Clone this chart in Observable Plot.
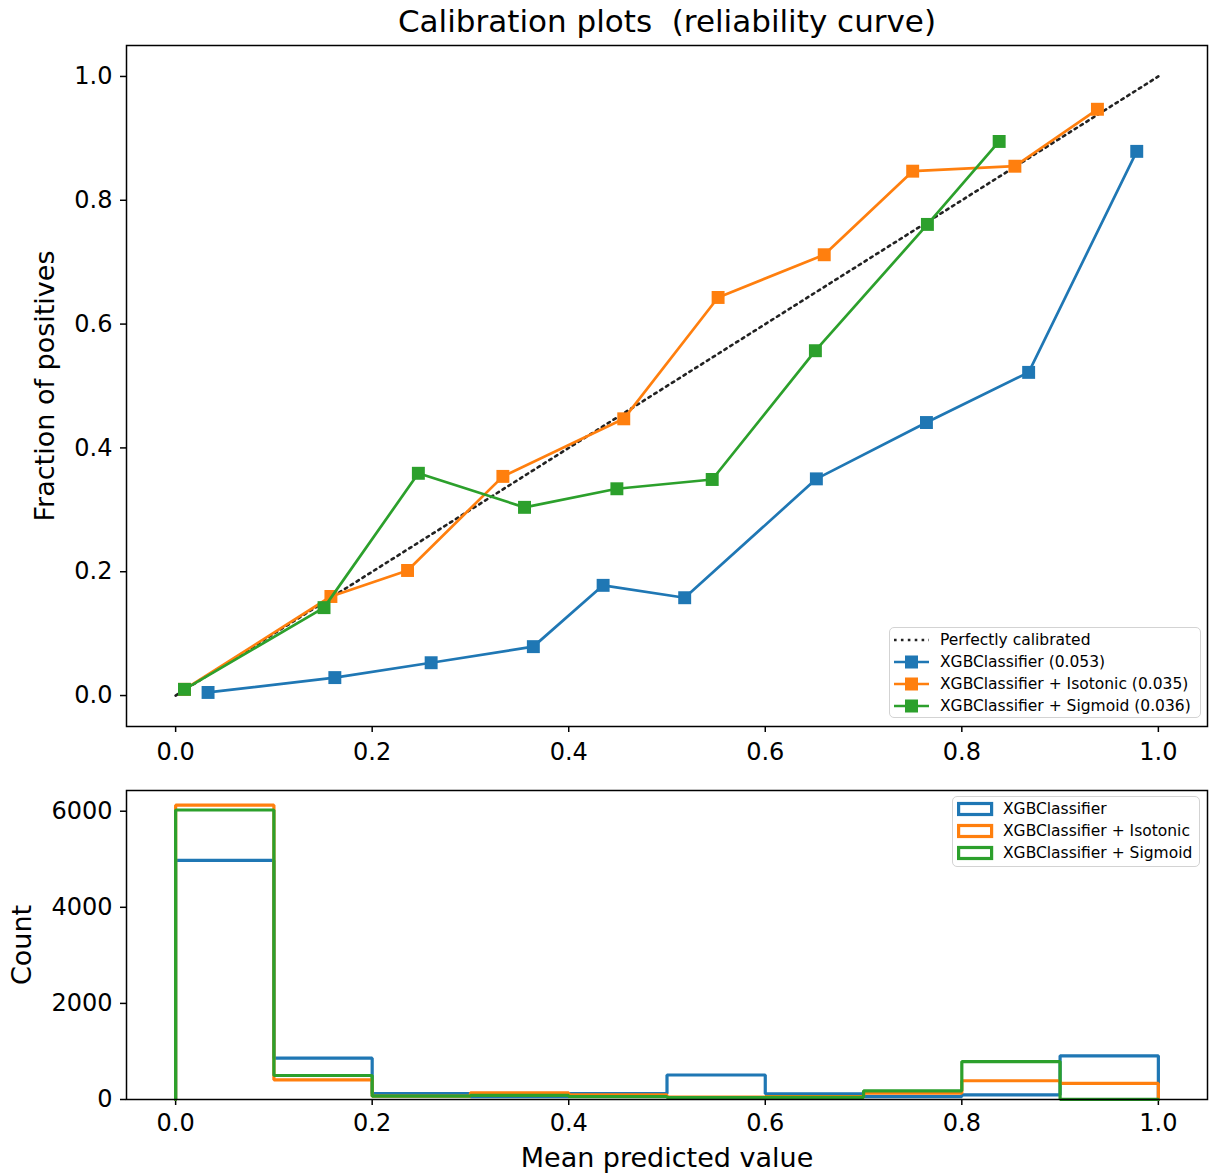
<!DOCTYPE html>
<html><head><meta charset="utf-8">
<script src="https://cdn.jsdelivr.net/npm/d3@7"></script>
<script src="https://cdn.jsdelivr.net/npm/@observablehq/plot@0.6"></script>
<style>
body{margin:0;background:#fff;font-family:"DejaVu Sans",sans-serif;}
#wrap{position:relative;width:1209px;height:1176px;overflow:hidden;background:#fff;}
#wrap > svg{position:absolute;left:0;}
.legend{position:absolute;background:rgba(255,255,255,0.85);border:1.5px solid #d3d3d3;border-radius:5px;box-sizing:border-box;font-size:15.5px;color:#000;}
.row{position:absolute;height:22px;display:flex;align-items:center;white-space:nowrap;}
.row svg{display:block;}
</style></head>
<body><div id="wrap"></div>
<script>
// ---- data ----
const colors = ["#1f77b4", "#ff7f0e", "#2ca02c"];
const seriesNames = ["XGBClassifier", "XGBClassifier + Isotonic", "XGBClassifier + Sigmoid"];
const brierScores = ["0.053", "0.035", "0.036"];
const perfectLabel = "Perfectly calibrated";
const perfectX = [0, 1];
const perfectY = [0, 1];

const xgbMeanPred = [0.033, 0.162, 0.260, 0.364, 0.435, 0.518, 0.652, 0.764, 0.868, 0.978];
const xgbFracPos  = [0.005, 0.029, 0.053, 0.079, 0.178, 0.158, 0.350, 0.441, 0.522, 0.879];
const isoMeanPred = [0.009, 0.158, 0.236, 0.333, 0.456, 0.552, 0.660, 0.750, 0.854, 0.938];
const isoFracPos  = [0.010, 0.160, 0.202, 0.354, 0.447, 0.643, 0.712, 0.847, 0.855, 0.947];
const sigMeanPred = [0.009, 0.151, 0.247, 0.355, 0.449, 0.546, 0.651, 0.765, 0.838];
const sigFracPos  = [0.010, 0.142, 0.359, 0.304, 0.334, 0.349, 0.557, 0.761, 0.895];

const binEdges  = [0, 0.1, 0.2, 0.3, 0.4, 0.5, 0.6, 0.7, 0.8, 0.9, 1.0];
const xgbCounts = [4975, 860, 125, 60, 125, 510, 120, 60, 95, 910];
const isoCounts = [6125, 410, 70, 140, 95, 50, 60, 130, 390, 335];
const sigCounts = [6025, 500, 70, 85, 60, 40, 45, 180, 790, 3];

const xTicks = [0, 0.2, 0.4, 0.6, 0.8, 1.0];
const yTicksTop = [0, 0.2, 0.4, 0.6, 0.8, 1.0];
const yTicksBottom = [0, 2000, 4000, 6000];

const titleText = "Calibration plots  (reliability curve)";
const yLabelTop = "Fraction of positives";
const yLabelBottom = "Count";
const xLabelBottom = "Mean predicted value";

// ---- tables ----
const curves = [
  {name: seriesNames[0], color: colors[0], pts: xgbMeanPred.map((x, i) => ({x, y: xgbFracPos[i]}))},
  {name: seriesNames[1], color: colors[1], pts: isoMeanPred.map((x, i) => ({x, y: isoFracPos[i]}))},
  {name: seriesNames[2], color: colors[2], pts: sigMeanPred.map((x, i) => ({x, y: sigFracPos[i]}))}
];
const perfect = perfectX.map((x, i) => ({x, y: perfectY[i]}));

function stepPoints(counts) {
  const pts = [{x: binEdges[0], y: 0}];
  counts.forEach((c, i) => pts.push({x: binEdges[i], y: c}));
  pts.push({x: binEdges[binEdges.length - 1], y: counts[counts.length - 1]});
  pts.push({x: binEdges[binEdges.length - 1], y: 0});
  return pts;
}
const hists = [
  {name: seriesNames[0], color: colors[0], pts: stepPoints(xgbCounts)},
  {name: seriesNames[1], color: colors[1], pts: stepPoints(isoCounts)},
  {name: seriesNames[2], color: colors[2], pts: stepPoints(sigCounts)}
];

const fmt1 = d3.format(".1f");
const styleBase = {fontFamily: "DejaVu Sans", background: "transparent", color: "black", overflow: "visible"};

const topPlot = Plot.plot({
  width: 1209, height: 780,
  marginTop: 45, marginBottom: 54, marginLeft: 126, marginRight: 2,
  x: {domain: [-0.05, 1.05]},
  y: {domain: [-0.05, 1.05]},
  style: styleBase,
  marks: [
    Plot.axisX({ticks: xTicks, tickFormat: fmt1, fontSize: 24, tickSize: 6, tickPadding: 10, strokeWidth: 1.5, label: null}),
    Plot.axisY({ticks: yTicksTop, tickFormat: fmt1, fontSize: 24, tickSize: 6, tickPadding: 8, strokeWidth: 1.5, label: null}),
    Plot.line(perfect, {x: "x", y: "y", stroke: "#222", strokeWidth: 2.6, strokeDasharray: "2.6,4.3"}),
    ...curves.flatMap(c => [
      Plot.line(c.pts, {x: "x", y: "y", stroke: c.color, strokeWidth: 2.7, strokeLinejoin: "round"}),
      Plot.dot(c.pts, {x: "x", y: "y", symbol: "square", r: 7.3, fill: c.color, stroke: "none"})
    ]),
    Plot.frame({stroke: "black", strokeWidth: 1.5}),
    Plot.text([titleText], {text: d => d, frameAnchor: "top", dy: -23, lineAnchor: "middle", textAnchor: "middle", fontSize: 31}),
    Plot.text([yLabelTop], {text: d => d, frameAnchor: "left", dx: -81, rotate: -90, textAnchor: "middle", lineAnchor: "middle", fontSize: 27})
  ]
});
topPlot.style.top = "0px";

const bottomPlot = Plot.plot({
  width: 1209, height: 396,
  marginTop: 10, marginBottom: 77, marginLeft: 126, marginRight: 2,
  x: {domain: [-0.05, 1.05]},
  y: {domain: [0, 6431]},
  style: styleBase,
  marks: [
    Plot.axisX({ticks: xTicks, tickFormat: fmt1, fontSize: 24, tickSize: 6, tickPadding: 8, strokeWidth: 1.5, label: null}),
    Plot.axisY({ticks: yTicksBottom, tickFormat: d => String(d), fontSize: 24, tickSize: 6, tickPadding: 8, strokeWidth: 1.5, label: null}),
    ...hists.map(h => Plot.line(h.pts, {x: "x", y: "y", curve: "step-after", stroke: h.color, strokeWidth: 3.2, strokeLinejoin: "miter"})),
    Plot.frame({stroke: "black", strokeWidth: 1.5}),
    Plot.text([xLabelBottom], {text: d => d, frameAnchor: "bottom", dy: 59, lineAnchor: "middle", textAnchor: "middle", fontSize: 27}),
    Plot.text([yLabelBottom], {text: d => d, frameAnchor: "left", dx: -104, rotate: -90, textAnchor: "middle", lineAnchor: "middle", fontSize: 27})
  ]
});
bottomPlot.style.top = "780px";

const wrap = document.getElementById("wrap");
wrap.appendChild(topPlot);
wrap.appendChild(bottomPlot);

// ---- legends ----
const NS = "http://www.w3.org/2000/svg";
function el(tag, attrs) {
  const e = document.createElementNS(NS, tag);
  for (const k in attrs) e.setAttribute(k, attrs[k]);
  return e;
}
function makeLegend(left, top, width, height, entries) {
  const box = document.createElement("div");
  box.className = "legend";
  Object.assign(box.style, {left: left + "px", top: top + "px", width: width + "px", height: height + "px"});
  entries.forEach((e, i) => {
    const row = document.createElement("div");
    row.className = "row";
    row.style.left = e.padLeft + "px";
    row.style.top = (i * 22 + e.padTop) + "px";
    const sw = el("svg", {width: e.swW, height: 22});
    e.draw(sw);
    row.appendChild(sw);
    const t = document.createElement("span");
    t.textContent = e.label;
    t.style.marginLeft = e.gap + "px";
    row.appendChild(t);
    box.appendChild(row);
  });
  wrap.appendChild(box);
}

const topEntries = [
  {label: perfectLabel, padLeft: 4, padTop: 0.5, swW: 35, gap: 11,
   draw: s => s.appendChild(el("line", {x1: 0, x2: 35, y1: 11, y2: 11, stroke: "#222", "stroke-width": 2.6, "stroke-dasharray": "2.6,4.3"}))},
  ...curves.map((c, i) => ({label: `${c.name} (${brierScores[i]})`, padLeft: 4, padTop: 0.5, swW: 35, gap: 11,
   draw: s => {
     s.appendChild(el("line", {x1: 0, x2: 35, y1: 11, y2: 11, stroke: c.color, "stroke-width": 2.7}));
     s.appendChild(el("rect", {x: 11, y: 4.5, width: 13, height: 13, fill: c.color}));
   }}))
];
makeLegend(889, 627, 312, 91, topEntries);

const bottomEntries = hists.map(h => ({label: h.name, padLeft: 4, padTop: 0.5, swW: 37, gap: 9,
  draw: s => s.appendChild(el("rect", {x: 1.6, y: 5.5, width: 33, height: 11, fill: "white", stroke: h.color, "stroke-width": 3.2}))}));
makeLegend(952, 796, 248, 71, bottomEntries);
</script>
</body></html>
